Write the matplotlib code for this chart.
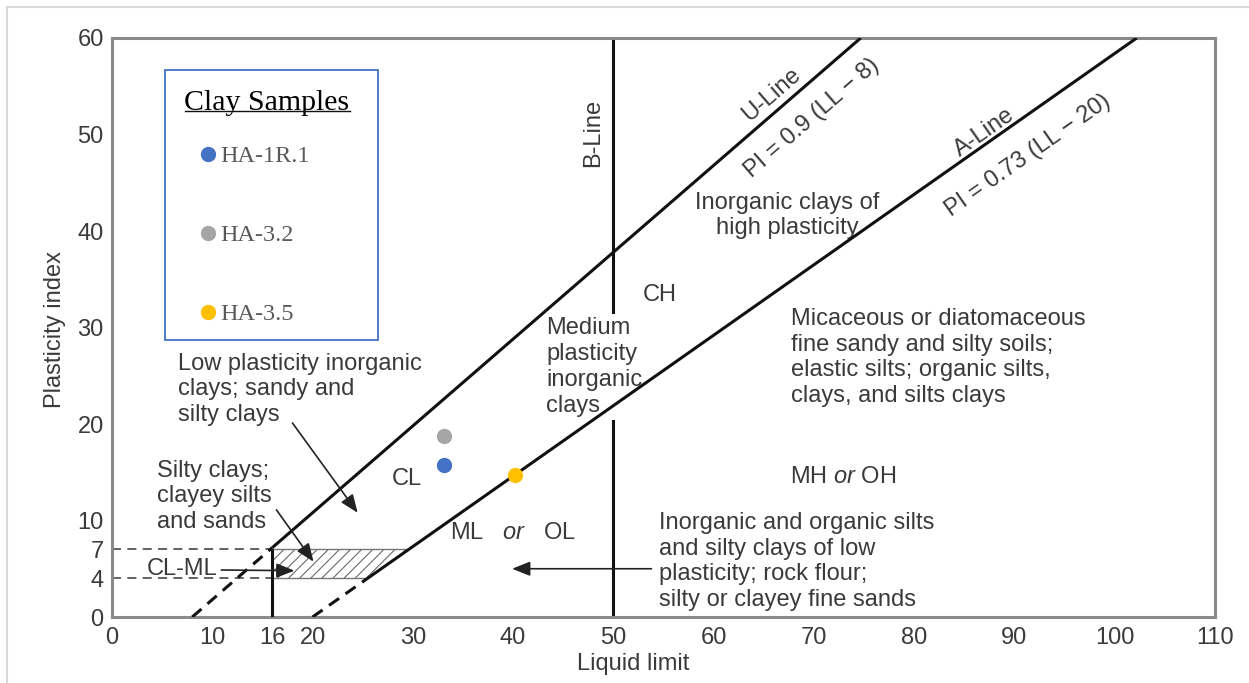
import numpy as np
import matplotlib
matplotlib.use("Agg")
import matplotlib.pyplot as plt
from matplotlib.lines import Line2D
from matplotlib.patches import Rectangle

# ---------------- data ----------------
x_ticks = [0, 10, 16, 20, 30, 40, 50, 60, 70, 80, 90, 100, 110]
y_ticks = [0, 4, 7, 10, 20, 30, 40, 50, 60]
grid_x = [10, 20, 30, 40, 60, 70, 80, 90, 100]
y_minor = [10, 20, 30, 40, 50]

u_slope, u_offset = 0.9, 8      # U-line: PI = 0.9 (LL - 8)
a_slope, a_offset = 0.73, 20    # A-line: PI = 0.73 (LL - 20)
b_line_ll = 50
cl_ml_ll = 16
cl_ml_pi = [4, 7]
pi_max = 60

samples = ["HA-1R.1", "HA-3.2", "HA-3.5"]
sample_ll = [33.1, 33.1, 40.2]
sample_pi = [15.8, 18.8, 14.7]
sample_colors = ["#4472C4", "#A5A5A5", "#FFC000"]

# ---------------- style ----------------
SANS = "Liberation Sans"
SERIF = "Liberation Serif"
TXT = "#3a3a3a"
FS = 17
plt.rcParams["font.family"] = [SANS, "DejaVu Sans"]
plt.rcParams["mathtext.fontset"] = "custom"
plt.rcParams["mathtext.rm"] = SANS
plt.rcParams["mathtext.it"] = SANS + ":italic"
plt.rcParams["hatch.linewidth"] = 0.8

W, H = 1249, 683
fig = plt.figure(figsize=(W / 100, H / 100), dpi=100)
ax = fig.add_axes([112 / W, 1 - 617 / H, (1215 - 112) / W, (617 - 38) / H])
ax.set_xlim(0, 110)
ax.set_ylim(0, 60)
ax.set_axisbelow(True)

for s in ax.spines.values():
    s.set_color("#8a8a8a")
    s.set_linewidth(2.2)

ax.set_xticks(x_ticks)
ax.set_yticks(y_ticks)
ax.xaxis.set_minor_locator(matplotlib.ticker.FixedLocator(grid_x))
ax.yaxis.set_minor_locator(matplotlib.ticker.FixedLocator(y_minor))
ax.tick_params(axis="both", which="major", length=0, labelsize=FS, labelcolor=TXT)
ax.tick_params(axis="x", which="major", pad=7)
ax.tick_params(axis="y", which="major", pad=6)
ax.tick_params(axis="x", which="minor", length=0)
ax.tick_params(axis="y", which="minor", direction="in", length=11, width=1.6, color="#777777")
ax.grid(axis="x", which="minor", color="#e2e2e2", lw=1.2)

ax.set_xlabel("Liquid limit", fontsize=FS, color=TXT)
ax.set_ylabel("Plasticity index", fontsize=FS, color=TXT)
ax.xaxis.set_label_coords((633 - 112) / 1103, -0.062)
ax.yaxis.set_label_coords(-0.042, 0.496)

# ---------------- boundary lines ----------------
LINE = dict(color="#111111", lw=2.2, zorder=3, solid_capstyle="butt")
DASH = dict(color="#111111", lw=2.2, zorder=3, ls=(0, (4, 2.6)))

# U-line
u_top = u_offset + pi_max / u_slope
ll_u = np.array([cl_ml_ll, u_top])
ax.plot(ll_u, u_slope * (ll_u - u_offset), **LINE)
ll_ud = np.array([u_offset, cl_ml_ll])
ax.plot(ll_ud, u_slope * (ll_ud - u_offset), **DASH)

# A-line
a_lo = a_offset + cl_ml_pi[0] / a_slope
a_top = a_offset + pi_max / a_slope
ll_a = np.array([a_lo, a_top])
ax.plot(ll_a, a_slope * (ll_a - a_offset), **LINE)
ll_ad = np.array([a_offset, a_lo])
ax.plot(ll_ad, a_slope * (ll_ad - a_offset), **DASH)

# B-line (sits under the text boxes)
ax.plot([b_line_ll, b_line_ll], [0, pi_max], color="#111111", lw=2.2, zorder=1)

# LL = 16 limit
ax.plot([cl_ml_ll, cl_ml_ll], [0, cl_ml_pi[1]], **LINE)

# CL-ML hatched band
pi_band = np.array(cl_ml_pi, dtype=float)
ax.fill_betweenx(pi_band, cl_ml_ll, a_offset + pi_band / a_slope,
                 facecolor="none", edgecolor="#6a6a6a", hatch="///", lw=0, zorder=2)
for p in cl_ml_pi:
    ax.plot([0, cl_ml_ll], [p, p], color="#555555", lw=1.3, ls=(0, (5, 3.5)), zorder=2)
    ax.plot([cl_ml_ll, a_offset + p / a_slope], [p, p], color="#777777", lw=1.0, zorder=2)

# ---------------- samples ----------------
for name, ll, pi, c in zip(samples, sample_ll, sample_pi, sample_colors):
    ax.plot([ll], [pi], ls="none", marker="o", markersize=10, color=c, label=name, zorder=5)

# ---------------- annotations ----------------
BOX = dict(boxstyle="square,pad=0.15", fc="white", ec="none")


def label(x, y, s, **kw):
    opts = dict(fontsize=FS, color=TXT, zorder=1.5, bbox=BOX, linespacing=1.22)
    opts.update(kw)
    return ax.text(x, y, s, **opts)


label(47.96, 50.2, "B-Line", rotation=90, ha="center", va="center")

u_ang = np.degrees(np.arctan(u_slope))
a_ang = np.degrees(np.arctan(a_slope))
label(65.8, 54.1, "U-Line", rotation=u_ang, transform_rotates_text=True,
      rotation_mode="anchor", ha="center", va="center", bbox=None)
label(69.8, 51.7, "PI = 0.9 (LL \u2212 8)", rotation=u_ang, transform_rotates_text=True,
      rotation_mode="anchor", ha="center", va="center", bbox=None)
label(87.0, 50.2, "A-Line", rotation=a_ang, transform_rotates_text=True,
      rotation_mode="anchor", ha="center", va="center", bbox=None)
label(91.4, 47.8, "PI = 0.73 (LL \u2212 20)", rotation=a_ang, transform_rotates_text=True,
      rotation_mode="anchor", ha="center", va="center", bbox=None)

label(67.3, 41.6, "Inorganic clays of\nhigh plasticity", ha="center", va="center",
      multialignment="center")
label(54.6, 33.4, "CH", ha="center", va="center")
label(43.3, 25.9, "Medium\nplasticity\ninorganic\nclays", ha="left", va="center")
label(67.7, 26.9, "Micaceous or diatomaceous\nfine sandy and silty soils;\n"
      "elastic silts; organic silts,\nclays, and silts clays", ha="left", va="center")
label(72.9, 14.5, r"MH $\mathit{or}$ OH", ha="center", va="center")
label(40.0, 8.7, r"ML   $\mathit{or}$   OL", ha="center", va="center")
label(29.4, 14.3, "CL", ha="center", va="center")
label(54.6, 5.75, "Inorganic and organic silts\nand silty clays of low\n"
      "plasticity; rock flour;\nsilty or clayey fine sands", ha="left", va="center")
label(6.6, 23.6, "Low plasticity inorganic\nclays; sandy and\nsilty clays", ha="left", va="center")
label(4.45, 12.5, "Silty clays;\nclayey silts\nand sands", ha="left", va="center")
label(6.95, 4.97, "CL-ML", ha="center", va="center")

ARROW = dict(arrowstyle="-|>,head_length=0.55,head_width=0.22", color="#222222",
             lw=1.2, mutation_scale=20, shrinkA=0, shrinkB=0)
for tail, head in [((18.0, 20.1), (24.5, 10.8)),
                   ((16.4, 11.1), (20.1, 5.73)),
                   ((10.9, 4.87), (18.2, 4.8)),
                   ((53.8, 5.0), (39.9, 5.0))]:
    ax.annotate("", xy=head, xytext=tail, arrowprops=ARROW, zorder=4)

# ---------------- legend ----------------
leg = ax.legend(loc="upper left", bbox_to_anchor=((184.5 - 112) / 1103, (617 - 90) / 579),
                frameon=False, title="Clay Samples", alignment="left",
                prop=dict(family=SERIF, size=17.5),
                title_fontproperties=dict(family=SERIF, size=21.5),
                labelcolor="#595959", handlelength=1.93, handletextpad=-0.45,
                labelspacing=2.35, borderpad=0, borderaxespad=0, numpoints=1)
leg._legend_box.sep = 21
leg.set_zorder(6)
ax.add_patch(Rectangle(((165 - 112) / 1103, (617 - 340) / 579), 213 / 1103, 270 / 579,
                       transform=ax.transAxes, fill=False, ec="#4472C4", lw=1.3, zorder=6))

# outer frame
fig.add_artist(Line2D([7 / W, 7 / W], [0, 1 - 7 / H], transform=fig.transFigure,
                      color="#d8d8d8", lw=1.5))
fig.add_artist(Line2D([7 / W, 1], [1 - 7 / H, 1 - 7 / H], transform=fig.transFigure,
                      color="#d8d8d8", lw=1.5))

# underline the legend title
fig.canvas.draw()
tb = leg.get_title().get_window_extent(fig.canvas.get_renderer())
inv = fig.transFigure.inverted()
(x0, y0), (x1, _) = inv.transform([[tb.x0, tb.y0 + 5], [tb.x1, tb.y0 + 5]])
fig.add_artist(Line2D([x0, x1], [y0, y0], transform=fig.transFigure, color="#111111", lw=1.0))

fig.savefig("out.png", dpi=100, facecolor="white")
